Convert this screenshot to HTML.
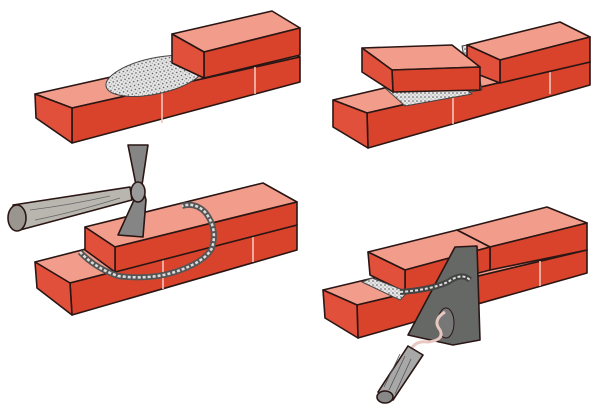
<!DOCTYPE html>
<html><head><meta charset="utf-8"><style>
html,body{margin:0;padding:0;background:#fff;}
svg{display:block;}
</style></head><body>
<svg width="600" height="409" viewBox="0 0 600 409" xmlns="http://www.w3.org/2000/svg">
<defs>
<pattern id="mort" width="4" height="4" patternUnits="userSpaceOnUse">
<rect width="4" height="4" fill="#e6e6e6"/>
<circle cx="1" cy="1" r="0.8" fill="#555"/>
<circle cx="3" cy="3" r="0.6" fill="#999"/>
</pattern>
</defs>
<g stroke="#2a1614" stroke-width="1.6" stroke-linejoin="round">
<!-- TOP LEFT -->
<polygon points="35,94 263,43 300,57 72,108" fill="#f29d8b"/>
<polygon points="72,108 300,57 300,82 72,143" fill="#d9432b"/>
<polygon points="35,94 72,108 72,143 36,118" fill="#e1503a"/>
<line x1="162" y1="88" x2="162" y2="123" stroke="#f4c4b8"/>
<line x1="255" y1="67" x2="255" y2="94" stroke="#f4c4b8"/>
<ellipse cx="155" cy="76" rx="50" ry="18" transform="rotate(-12 155 76)" fill="url(#mort)" stroke="#444" stroke-width="1"/>
<polygon points="172,34 272,11 300,28 204,52" fill="#f29d8b"/>
<polygon points="204,52 300,28 300,55 204,78" fill="#d9432b"/>
<polygon points="172,34 204,52 204,78 172,63" fill="#e1503a"/>

<!-- TOP RIGHT -->
<polygon points="333,100 555,48 590,62 367,113" fill="#f29d8b"/>
<polygon points="367,113 590,62 590,85 368,148" fill="#d9432b"/>
<polygon points="333,100 367,113 368,148 333,127" fill="#e1503a"/>
<line x1="453" y1="93" x2="453" y2="124" stroke="#f4c4b8"/>
<line x1="550" y1="71" x2="550" y2="94" stroke="#f4c4b8"/>
<polygon points="385,88 455,80 472,94 405,106" fill="url(#mort)" stroke="#444" stroke-width="1"/>
<polygon points="462,46 472,44 482,90 470,92" fill="url(#mort)" stroke="#444" stroke-width="1"/>
<polygon points="467,45 560,22 590,37 500,60" fill="#f29d8b"/>
<polygon points="500,60 590,37 590,62 500,83" fill="#d9432b"/>
<polygon points="467,45 500,60 500,83 467,70" fill="#e1503a"/>
<polygon points="362,48 452,45 480,67 392,70" fill="#f29d8b"/>
<polygon points="392,70 480,67 480,90 393,92" fill="#d9432b"/>
<polygon points="362,48 392,70 393,92 362,72" fill="#e1503a"/>

<!-- BOTTOM LEFT -->
<polygon points="35,262 262,204 297,225 70,283" fill="#f29d8b"/>
<polygon points="70,283 297,225 297,250 72,315" fill="#d9432b"/>
<polygon points="35,262 70,283 72,315 37,288" fill="#e1503a"/>
<line x1="163" y1="259" x2="163" y2="289" stroke="#f4c4b8"/>
<line x1="253" y1="236" x2="253" y2="262" stroke="#f4c4b8"/>
<polygon points="85,227 263,183 297,202 115,247" fill="#f29d8b"/>
<polygon points="115,247 297,202 297,225 115,272" fill="#d9432b"/>
<polygon points="85,227 115,247 115,272 85,250" fill="#e1503a"/>
<path d="M80,252 Q95,268 118,276 Q150,280 175,272 Q205,262 212,248 Q218,228 205,212 Q195,202 182,206" fill="none" stroke="#555" stroke-width="6"/>
<path d="M80,252 Q95,268 118,276 Q150,280 175,272 Q205,262 212,248 Q218,228 205,212 Q195,202 182,206" fill="none" stroke="#ddd" stroke-width="2.5" stroke-dasharray="3 2"/>
<!-- hammer -->
<path d="M13,205 L130,187 L132,200 L20,230 Z" fill="#b9b6b0"/>
<path d="M30,210 Q70,205 110,196 M35,220 Q75,212 120,198" fill="none" stroke="#666" stroke-width="0.8"/>
<ellipse cx="17" cy="218" rx="9" ry="13" fill="#9a968f"/>
<polygon points="128,145 148,145 142,185 146,200 143,237 118,235 134,200 136,185" fill="#858585"/>
<ellipse cx="138" cy="192" rx="7" ry="10" fill="#9a9a9a"/>

<!-- BOTTOM RIGHT -->
<polygon points="323,290 553,235 587,250 357,305" fill="#f29d8b"/>
<polygon points="357,305 587,250 587,273 358,338" fill="#d9432b"/>
<polygon points="323,290 357,305 358,338 325,318" fill="#e1503a"/>
<line x1="540" y1="261" x2="540" y2="286" stroke="#f4c4b8"/>
<polygon points="457,230 547,207 587,223 490,247" fill="#f29d8b"/>
<polygon points="490,247 587,223 587,250 490,270" fill="#d9432b"/>
<polygon points="368,252 457,230 490,247 405,270" fill="#f29d8b"/>
<polygon points="405,270 490,247 490,270 405,292" fill="#d9432b"/>
<polygon points="368,252 405,270 405,292 370,275" fill="#e1503a"/>
<polygon points="362,282 372,278 408,292 400,300" fill="url(#mort)" stroke="#444" stroke-width="1"/>
<!-- trowel -->
<polygon points="408,335 455,247 477,246 480,340 453,345" fill="#666866"/>
<path d="M400,292 Q430,290 448,282 Q462,272 470,280" fill="none" stroke="#444" stroke-width="6"/>
<path d="M400,292 Q430,290 448,282 Q462,272 470,280" fill="none" stroke="#ddd" stroke-width="2" stroke-dasharray="3 2"/>
<ellipse cx="446" cy="323" rx="8" ry="15" fill="#777" stroke-width="1"/>
<path d="M445,312 Q432,320 440,330 Q445,340 428,342 Q414,340 410,352" fill="none" stroke="#e8c8c0" stroke-width="3"/>
<path d="M408,346 L423,355 L393,400 L378,392 Z" fill="#a8a8a8"/>
<path d="M405,356 L389,390 M411,359 L395,394 M400,354 L384,387" stroke="#555" stroke-width="0.8"/>
<ellipse cx="385" cy="397" rx="8" ry="6" fill="#888"/>
</g>
</svg>
</body></html>
